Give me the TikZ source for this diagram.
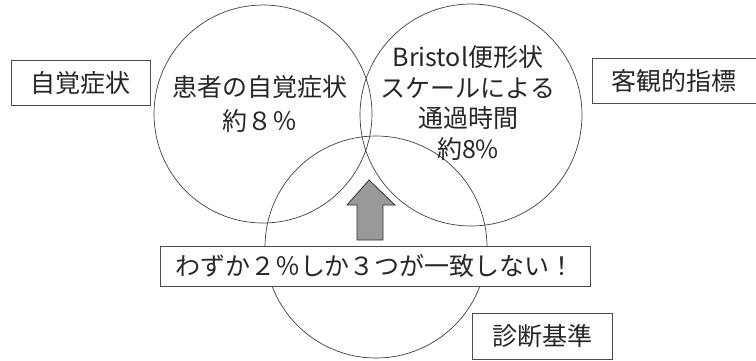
\documentclass[tikz,border=0pt]{standalone}
\usepackage{fontspec}
\setmainfont{Noto Sans CJK JP}
\begin{document}
\begin{tikzpicture}[x=1pt,y=-1pt,
  ring/.style={circle, draw=black!75, line width=0.7pt, inner sep=0pt, outer sep=0pt},
  tagbox/.style={draw=black!70, line width=0.8pt, fill=white, inner sep=0pt, text=black!85,
                 font=\fontsize{25}{30}\selectfont},
  txt/.style={text=black!85, font=\fontsize{25}{31}\selectfont, align=center, inner sep=0pt},
  bigarrow/.style={fill=black!40, draw=black!80, line width=0.8pt, line join=miter}]
\useasboundingbox (0,0) rectangle (756,360);
% circles
\node[ring, minimum size=218pt] (c1) at (263,114) {};
\node[ring, minimum size=222pt] (c2) at (471,115) {};
\node[ring, minimum size=222pt] (c3) at (376,247) {};
% circle texts
\node[txt, font=\fontsize{25}{34}\selectfont] (t1) at (260,104) {患者の自覚症状\\約８％};
\node[txt, font=\fontsize{25}{30.5}\selectfont] (t2) at (468,103) {Bristol便形状\\スケールによる\\通過時間\\約8\%};
% arrow
\coordinate (tip) at (369,180);
\draw[white, line width=6pt, line join=miter]
  (tip) -- (395,205) -- (383,205) -- (383,240) -- (357,240) -- (357,205) -- (347,205) -- cycle;
\fill[white] (tip) -- (395,205) -- (383,205) -- (383,240) -- (357,240) -- (357,205) -- (347,205) -- cycle;
\draw[bigarrow]
  (tip) -- (395,205) -- (383,205) -- (383,240) -- (357,240) -- (357,205) -- (347,205) -- cycle;
% boxes
\node[tagbox, minimum width=139pt, minimum height=45pt] (b1) at (80.5,82.5) {自覚症状};
\node[tagbox, minimum width=168pt, minimum height=45pt, anchor=west] (b2) at (592,80.5) {\hspace*{-4pt}客観的指標};
\node[tagbox, minimum width=430pt, minimum height=40pt] (b3) at (375,266) {わずか２％しか３つが一致しない！};
\node[tagbox, minimum width=140pt, minimum height=46pt] (b4) at (542,336) {診断基準};
\end{tikzpicture}
\end{document}
